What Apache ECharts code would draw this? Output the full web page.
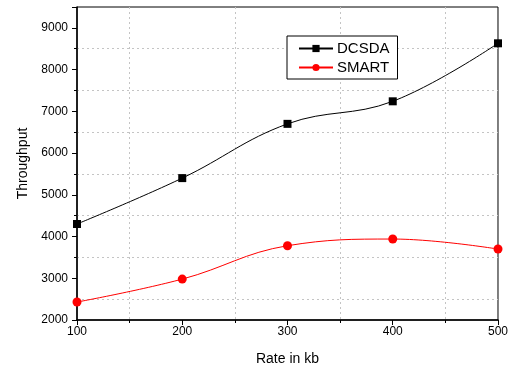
<!DOCTYPE html>
<html><head><meta charset="utf-8">
<script src="https://cdn.jsdelivr.net/npm/echarts@6/dist/echarts.min.js"></script>
<style>html,body{margin:0;padding:0;background:#fff}#c{width:511px;height:372px}</style>
</head><body><div id="c"></div>
<script>
const rates = [100, 200, 300, 400, 500];
const dcsda = [4300, 5400, 6700, 7240, 8630];
const smart = [2430, 2980, 3780, 3940, 3700];
const xTicks = [100, 200, 300, 400, 500];
const yTicks = [2000, 3000, 4000, 5000, 6000, 7000, 8000, 9000];

const font = 'Liberation Sans, Arial, sans-serif';
const chart = echarts.init(document.getElementById('c'));
chart.setOption({
  animation: false,
  backgroundColor: '#fff',
  grid: {left: 77, right: 12, top: 7, bottom: 52, show: true, borderColor: '#000', borderWidth: 1, backgroundColor: 'transparent'},
  legend: {
    left: 287, top: 36, orient: 'vertical',
    backgroundColor: '#fff', borderColor: '#000', borderWidth: 1,
    padding: [5, 8, 4, 11], itemGap: 4, itemWidth: 34, itemHeight: 9,
    textStyle: {fontFamily: font, fontSize: 15, color: '#000', padding: [0,0,0,-1]},
    data: ['DCSDA', 'SMART']
  },
  xAxis: {
    type: 'value', min: xTicks[0], max: xTicks[xTicks.length-1], interval: 100,
    name: 'Rate in kb', nameLocation: 'middle', nameGap: 32,
    nameTextStyle: {fontFamily: font, fontSize: 14, color: '#000'},
    axisLine: {lineStyle: {color: '#000', width: 1.5}},
    axisTick: {show: true, length: 5, lineStyle: {color: '#000'}},
    minorTick: {show: true, splitNumber: 2, length: 3, lineStyle: {color: '#000'}},
    splitLine: {show: false},
    minorSplitLine: {show: true, lineStyle: {color: '#c4c4c4', type: [2, 3]}},
    axisLabel: {fontFamily: font, fontSize: 12, color: '#000', margin: 6}
  },
  yAxis: {
    type: 'value', min: 2000, max: 9500, interval: 1000,
    name: 'Throughput', nameLocation: 'middle', nameGap: 45,
    nameTextStyle: {fontFamily: font, fontSize: 14, color: '#000'},
    axisLine: {show: true, lineStyle: {color: '#000', width: 1.5}},
    axisTick: {show: true, length: 5, lineStyle: {color: '#000'}},
    minorTick: {show: true, splitNumber: 2, length: 3, lineStyle: {color: '#000'}},
    splitLine: {show: false},
    minorSplitLine: {show: true, lineStyle: {color: '#c4c4c4', type: [2, 3]}},
    axisLabel: {fontFamily: font, fontSize: 12, color: '#000', margin: 9,
      formatter: v => yTicks.includes(v) ? String(v) : ''}
  },
  series: [
    {name: 'DCSDA', type: 'line', smooth: 0.4, data: rates.map((r, i) => [r, dcsda[i]]),
     symbol: 'rect', symbolSize: 8, color: '#000', lineStyle: {color: '#000', width: 1}, itemStyle: {color: '#000'}, clip: false},
    {name: 'SMART', type: 'line', smooth: 0.4, data: rates.map((r, i) => [r, smart[i]]),
     symbol: 'circle', symbolSize: 9, color: '#ff0000', lineStyle: {color: '#ff0000', width: 1}, itemStyle: {color: '#ff0000'}, clip: false}
  ]
});
</script></body></html>
